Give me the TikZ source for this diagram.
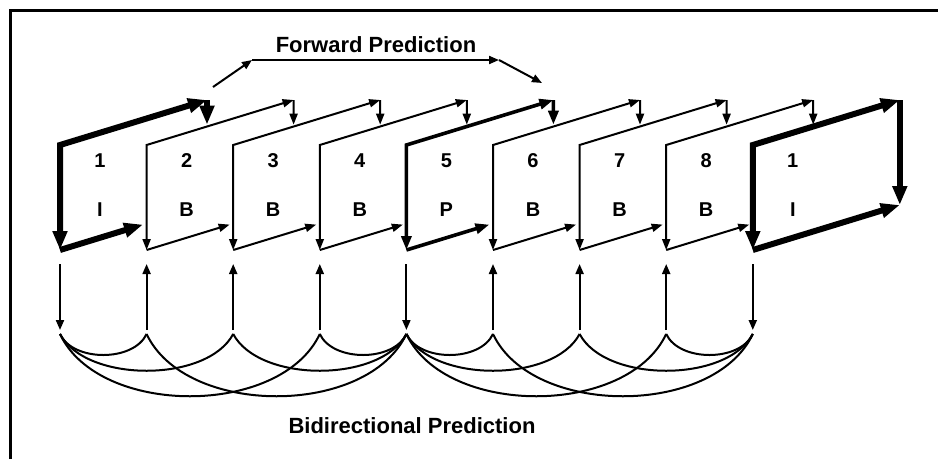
\documentclass[tikz,border=0pt]{standalone}
\usepackage{fontspec}
\setmainfont{Liberation Sans}
\usetikzlibrary{arrows.meta,calc}
\begin{document}
\begin{tikzpicture}[x=1pt,y=-1pt,
  lab/.style={font=\fontsize{20}{24}\selectfont\bfseries, anchor=base, inner sep=0pt},
  title/.style={font=\fontsize{22}{26}\selectfont\bfseries, anchor=base, inner sep=0pt},
  thinarr/.style={line width=2pt, -{Triangle[length=10pt,width=8pt]}},
  curve/.style={line width=2pt}]
\useasboundingbox (0,0) rectangle (938,459);
\fill[white] (0,0) rectangle (938,459);
% border (top and left only)
\coordinate (b0) at (10,459);
\coordinate (b1) at (10,10);
\coordinate (b2) at (938,10);
\draw[line width=3pt] (b0) -- (b1) -- (b2);
% frames
\foreach \i/\num/\typ/\lw/\al/\aw in {1/1/I/6/19/14, 2/2/B/2/11/8, 3/3/B/2/11/8, 4/4/B/2/11/8, 5/5/P/3.6/14/10, 6/6/B/2/11/8, 7/7/B/2/11/8, 8/8/B/2/11/8, 9/1/I/6/19/14}{
  \pgfmathsetmacro{\L}{60+86.6*(\i-1)}
  \coordinate (tl\i) at (\L,145);
  \coordinate (bl\i) at (\L,250);
  \coordinate (tr\i) at (\L+147,100);
  \coordinate (br\i) at (\L+147,205);
  \coordinate (rc\i) at ($(tr\i)!0.235!(br\i)$);
  \coordinate (bc\i) at ($(bl\i)!0.565!(br\i)$);
  \fill[white] (tl\i) -- (tr\i) -- (br\i) -- (bl\i) -- cycle;
  \node[lab] (n\i) at (\L+40,167) {\num};
  \node[lab] (t\i) at (\L+40,216) {\typ};
  \begin{scope}[line width=\lw pt, arr/.style={-{Triangle[length=\al pt,width=\aw pt]}}]
    \draw[{Triangle[length=\al pt,width=\aw pt]}-{Triangle[length=\al pt,width=\aw pt]}] (bl\i) -- (tl\i) -- (tr\i);
    \ifnum\i<9
      \draw[arr] (tr\i) -- (rc\i);
      \draw[arr] (bl\i) -- (bc\i);
    \else
      \draw[arr] (tr\i) -- (br\i);
      \draw[arr] (bl\i) -- (br\i);
    \fi
  \end{scope}
}
% forward prediction
\node[title] (fp) at (376,52) {Forward Prediction};
\coordinate (f0) at (213,87);
\coordinate (f1) at (252,60);
\coordinate (f2) at (499,60);
\coordinate (f3) at (542,83);
\draw[thinarr] (f0) -- (f1);
\draw[thinarr] (f1) -- (f2);
\draw[thinarr] (f2) -- (f3);
% vertical arrows and cusp points
\foreach \i in {1,...,9}{
  \pgfmathsetmacro{\L}{60+86.6*(\i-1)}
  \coordinate (va\i) at (\L,264);
  \coordinate (vb\i) at (\L,330);
  \coordinate (c\i) at (\L,334);
}
\foreach \i in {1,5,9}{ \draw[thinarr] (va\i) -- (vb\i); }
\foreach \i in {2,3,4,6,7,8}{ \draw[thinarr] (vb\i) -- (va\i); }
% bidirectional curves
\foreach \a/\b/\dx/\dy in {1/2/13/28, 1/3/26/49, 1/4/39/83, 2/5/39/83, 3/5/26/49, 4/5/13/28,
                          5/6/13/28, 5/7/26/49, 5/8/39/83, 6/9/39/83, 7/9/26/49, 8/9/13/28}{
  \draw[curve] (c\a) .. controls +(\dx,\dy) and +(-\dx,\dy) .. (c\b);
}
\node[title] (bp) at (412,433) {Bidirectional Prediction};
\end{tikzpicture}
\end{document}
